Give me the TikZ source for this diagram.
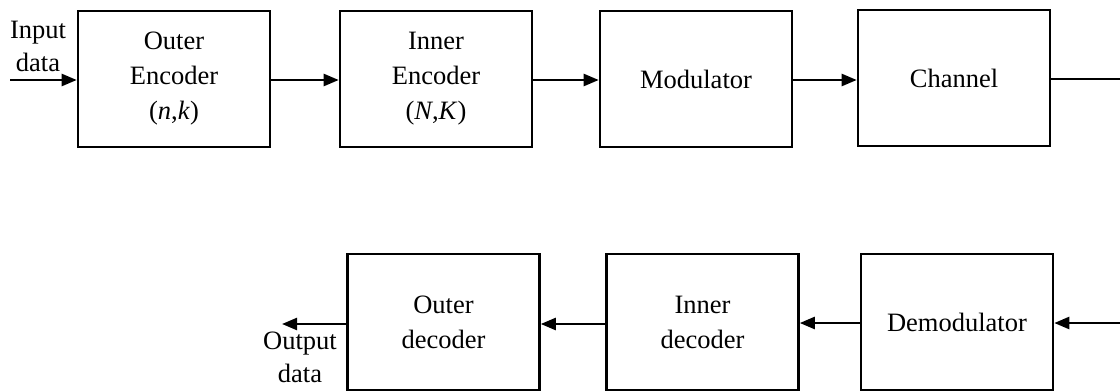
\documentclass[tikz,border=0pt]{standalone}
\usepackage{fontspec}
\setmainfont{Liberation Serif}
\usetikzlibrary{arrows.meta}
\begin{document}
\begin{tikzpicture}[x=1pt,y=-1pt,
  blk/.style={draw=black,line width=2.6pt,minimum width=192pt,minimum height=136pt,inner sep=0pt,align=center,font=\fontsize{26.5}{35}\selectfont},
  lbl/.style={align=center,inner sep=0pt,font=\fontsize{26.5}{33}\selectfont},
  conn/.style={line width=2.4pt,-{Triangle[length=15pt,width=12pt]}},
  plain/.style={line width=2.4pt}]
\useasboundingbox[fill=white] (0,0) rectangle (1120,391);
\node[blk] (oe) at (174,79) {Outer\\Encoder\\(\textit{n},\textit{k})};
\node[blk] (ie) at (436,79) {Inner\\Encoder\\(\textit{N},\textit{K})};
\node[blk] (mod) at (696,79) {Modulator};
\node[blk] (ch) at (954,78) {Channel};
\node[blk] (od) at (443.5,322) {Outer\\decoder};
\node[blk] (id) at (702.5,322) {Inner\\decoder};
\node[blk] (dm) at (957,322) {Demodulator};
\node[lbl] (in) at (38,46) {Input\\data};
\node[lbl] (out) at (300,357) {Output\\data};
\coordinate (ins) at (10,80);
\coordinate (chout) at (1122,79);
\coordinate (dmin) at (1122,323);
\coordinate (outend) at (282,324);
\draw[conn] (ins) -- (oe.west |- ins);
\draw[conn] (oe.east |- ins) -- (ie.west |- ins);
\draw[conn] (ie.east |- ins) -- (mod.west |- ins);
\draw[conn] (mod.east |- ins) -- (ch.west |- ins);
\draw[plain] (ch.east |- chout) -- (chout);
\draw[conn] (dmin) -- (dm.east |- dmin);
\draw[conn] (dm.west |- dmin) -- (id.east |- dmin);
\draw[conn] (id.west |- outend) -- (od.east |- outend);
\draw[conn] (od.west |- outend) -- (outend);
\end{tikzpicture}
\end{document}
